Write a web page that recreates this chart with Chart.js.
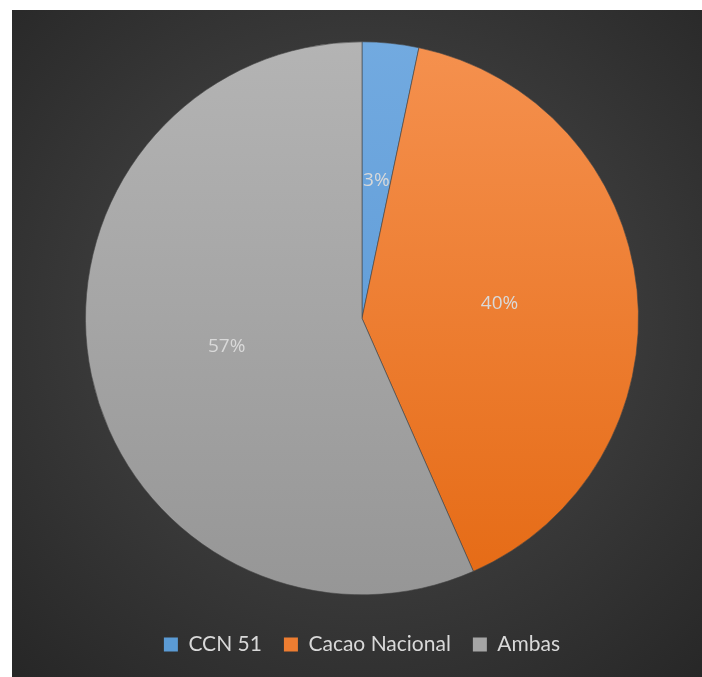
<!DOCTYPE html>
<html>
<head>
<meta charset="utf-8">
<script src="https://cdn.jsdelivr.net/npm/chart.js@4"></script>
<style>
  html, body { margin: 0; padding: 0; background: #fff; }
  #panel {
    position: absolute; left: 12px; top: 10px; width: 690px; height: 667px;
    background: radial-gradient(ellipse 75% 75% at 51% 46%, #4c4c4c 0%, #3c3c3c 45%, #262626 100%);
  }
  canvas { display: block; }
</style>
</head>
<body>
<div id="panel"><canvas id="c" width="690" height="667"></canvas></div>
<script>
// datos
const categorias = ['CCN 51', 'Cacao Nacional', 'Ambas'];
const valores = [3.3, 40.1, 56.6];
const etiquetas = ['3%', '40%', '57%'];

// colores (arriba -> abajo)
const colorArriba = ['#72aae0', '#f5914f', '#b4b4b4'];
const colorAbajo = ['#5594d3', '#e56a14', '#969696'];
const legendColor = ['#5b9bd5', '#ed7d31', '#a5a5a5'];

function gradiente(ctx) {
  const chart = ctx.chart;
  const area = chart.chartArea;
  if (!area) return legendColor[ctx.dataIndex];
  const g = chart.ctx.createLinearGradient(0, area.top, 0, area.bottom);
  g.addColorStop(0, colorArriba[ctx.dataIndex]);
  g.addColorStop(1, colorAbajo[ctx.dataIndex]);
  return g;
}

// etiquetas dentro de cada porcion, a mitad del radio
const etiquetasPlugin = {
  id: 'etiquetas',
  afterDatasetsDraw(chart) {
    const c = chart.ctx;
    const meta = chart.getDatasetMeta(0);
    c.save();
    c.fillStyle = '#d9d9d9';
    c.font = '19px "Open Sans", sans-serif';
    c.textAlign = 'center';
    c.textBaseline = 'middle';
    meta.data.forEach((arc, i) => {
      const mid = (arc.startAngle + arc.endAngle) / 2;
      const r = arc.outerRadius * 0.5;
      c.fillText(etiquetas[i], arc.x + Math.cos(mid) * r, arc.y + Math.sin(mid) * r);
    });
    c.restore();
  }
};

new Chart(document.getElementById('c'), {
  type: 'pie',
  data: {
    labels: categorias,
    datasets: [{
      data: valores,
      backgroundColor: gradiente,
      borderColor: 'rgba(70,70,70,0.6)',
      borderWidth: 1
    }]
  },
  options: {
    responsive: false,
    animation: false,
    layout: { padding: { left: 73, right: 63, top: 29, bottom: 12 } },
    plugins: {
      tooltip: { enabled: false },
      legend: {
        position: 'bottom',
        title: { display: true, text: ' ', font: { size: 12 }, padding: { top: 0, bottom: 0 } },
        labels: {
          color: '#d9d9d9',
          font: { family: 'Lato, "Open Sans", sans-serif', size: 21 },
          boxWidth: 14,
          boxHeight: 14,
          padding: 22,
          generateLabels(chart) {
            return categorias.map((t, i) => ({
              text: t,
              fillStyle: legendColor[i],
              strokeStyle: legendColor[i],
              lineWidth: 0,
              fontColor: '#d9d9d9',
              index: i,
              hidden: false
            }));
          }
        }
      }
    }
  },
  plugins: [etiquetasPlugin]
});
</script>
</body>
</html>
